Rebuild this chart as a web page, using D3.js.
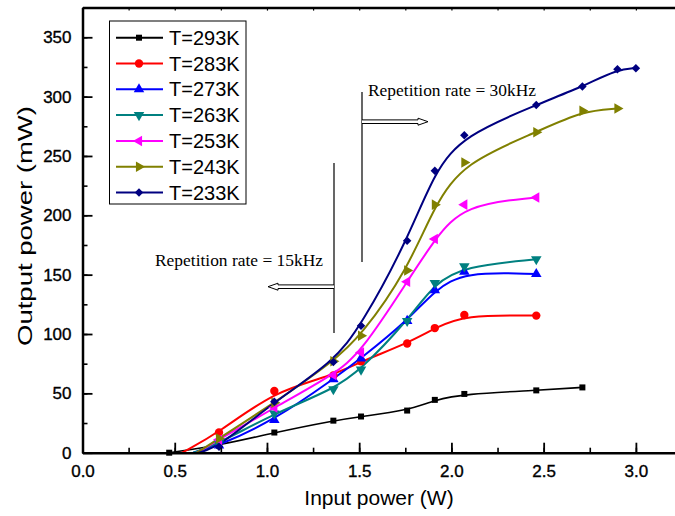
<!DOCTYPE html>
<html>
<head>
<meta charset="utf-8">
<style>
body { margin: 0; background: #fff; }
.axis text { font: 17px "Liberation Sans", Arial, sans-serif; fill: #000; stroke: #000; stroke-width: 0.35px; }
.axis path, .axis line { stroke: #000; fill: none; }
.title { font: 21px "Liberation Sans", Arial, sans-serif; fill: #000; }
.legend text { font: 20px "Liberation Sans", Arial, sans-serif; fill: #000; }
.note { font: 17.5px "Liberation Serif", "Times New Roman", serif; fill: #000; }
</style>
</head>
<body>
<svg id="chart"></svg>
<script src="https://d3js.org/d3.v7.min.js"></script>
<script>

var labels = ["T=293K", "T=283K", "T=273K", "T=263K", "T=253K", "T=243K", "T=233K"];
var colors = ["#000000", "#ff0000", "#0000ff", "#008080", "#ff00ff", "#808000", "#000080"];

// x where each fitted curve leaves the axis (no marker there)
var onset = [0.47, 0.54, 0.60, 0.60, 0.62, 0.62, 0.63];

var x293 = [0.47, 0.74, 1.04, 1.36, 1.51, 1.76, 1.91, 2.07, 2.46, 2.71];
var y293 = [0, 6, 17, 27, 30.5, 35.5, 44.5, 49.5, 52.5, 55];
var x283 = [0.74, 1.04, 1.36, 1.51, 1.76, 1.91, 2.07, 2.46];
var y283 = [17, 52, 65, 77, 92, 105, 116, 115.5];
var x273 = [0.74, 1.04, 1.36, 1.51, 1.76, 1.91, 2.07, 2.46];
var y273 = [6, 27.5, 62, 79.5, 111, 137, 152.5, 150.5];
var x263 = [0.74, 1.04, 1.36, 1.51, 1.76, 1.91, 2.07, 2.46];
var y263 = [8, 33, 53.5, 70, 111, 143, 157, 163];
var x253 = [0.74, 1.04, 1.36, 1.51, 1.76, 1.91, 2.07, 2.46];
var y253 = [11, 38, 65.5, 84.5, 144, 180, 209, 215];
var x243 = [0.74, 1.04, 1.36, 1.51, 1.76, 1.91, 2.07, 2.46, 2.71, 2.90];
var y243 = [12, 42, 77, 98.5, 153.5, 209, 244.5, 270, 288, 290];
var x233 = [0.74, 1.04, 1.36, 1.51, 1.76, 1.91, 2.07, 2.46, 2.71, 2.90, 3.00];
var y233 = [5, 43, 76.5, 107, 178.5, 237.5, 267.5, 293, 308.5, 323, 324];

var xTicks = [0, 0.5, 1.0, 1.5, 2.0, 2.5, 3.0];
var yTicks = [0, 50, 100, 150, 200, 250, 300, 350];

var xs = [x293, x283, x273, x263, x253, x243, x233];
var ys = [y293, y283, y273, y263, y253, y243, y233];

var width = 675, height = 516;

var x = d3.scaleLinear().domain([0, 3.25]).range([82.5, 682]);
var y = d3.scaleLinear().domain([0, 375]).range([452.7, 7.6]);

var svg = d3.select("#chart").attr("width", width).attr("height", height);

// marker shapes per series
var shapes = [
  {type: d3.symbolSquare, size: 36, rot: 0},
  {type: d3.symbolCircle, size: 55, rot: 0},
  {type: d3.symbolTriangle, size: 48, rot: 0},
  {type: d3.symbolTriangle, size: 48, rot: 180},
  {type: d3.symbolTriangle, size: 48, rot: -90},
  {type: d3.symbolTriangle, size: 48, rot: 90},
  {type: d3.symbolSquare, size: 36, rot: 45}
];

var series = labels.map(function(l, i) {
  var pts = xs[i].map(function(v, j) { return [v, ys[i][j]]; });
  var path = pts.slice();
  if (pts[0][0] > onset[i]) path.unshift([onset[i], 0]);
  return {label: l, color: colors[i], pts: pts, path: path, shape: shapes[i]};
});

var line = d3.line()
  .x(function(d) { return x(d[0]); })
  .y(function(d) { return y(d[1]); })
  .curve(d3.curveBasis);

var plot = svg.append("g");

series.forEach(function(s, i) {
  plot.append("path")
    .attr("d", line(s.path))
    .attr("fill", "none")
    .attr("stroke", s.color)
    .attr("stroke-width", i == 0 ? 1.6 : 2);
});

series.forEach(function(s) {
  var sym = d3.symbol().type(s.shape.type).size(s.shape.size);
  plot.selectAll(null)
    .data(s.pts)
    .enter().append("path")
    .attr("d", sym)
    .attr("fill", s.color)
    .attr("transform", function(d) {
      return "translate(" + x(d[0]) + "," + y(d[1]) + ") rotate(" + s.shape.rot + ")";
    });
});

// axes
var xMinor = d3.range(0, 3.26, 0.25);
var yMinor = d3.range(0, 376, 25);

svg.append("g").attr("class", "axis")
  .attr("transform", "translate(0," + y(0) + ")")
  .call(d3.axisBottom(x).tickValues(xMinor).tickSize(-5).tickSizeOuter(0).tickFormat(""))
  .call(function(g) { g.selectAll("line").attr("stroke-width", 1.6); });

svg.append("g").attr("class", "axis")
  .attr("transform", "translate(0," + y(0) + ")")
  .call(d3.axisBottom(x).tickValues(xTicks).tickSize(-10).tickSizeOuter(0).tickPadding(12)
    .tickFormat(d3.format(".1f")))
  .call(function(g) {
    g.select(".domain").attr("stroke-width", 2.5);
    g.selectAll("line").attr("stroke-width", 1.8);
  });

svg.append("g").attr("class", "axis")
  .attr("transform", "translate(" + x(0) + ",0)")
  .call(d3.axisLeft(y).tickValues(yMinor).tickSize(-5).tickSizeOuter(0).tickFormat(""))
  .call(function(g) { g.selectAll("line").attr("stroke-width", 1.6); });

svg.append("g").attr("class", "axis")
  .attr("transform", "translate(" + x(0) + ",0)")
  .call(d3.axisLeft(y).tickValues(yTicks).tickSize(-10).tickSizeOuter(0).tickPadding(11))
  .call(function(g) {
    g.select(".domain").attr("stroke-width", 2.5);
    g.selectAll("line").attr("stroke-width", 1.8);
  });

svg.append("g").attr("class", "axis")
  .attr("transform", "translate(0," + y(375) + ")")
  .call(d3.axisTop(x).tickValues(xMinor).tickSize(-3).tickSizeOuter(0).tickFormat(""))
  .call(function(g) {
    g.select(".domain").attr("stroke-width", 2.5);
    g.selectAll("line").attr("stroke-width", 1.2).attr("stroke", "#666");
  });

// axis titles
svg.append("text").attr("class", "title")
  .attr("x", 379).attr("y", 505)
  .attr("text-anchor", "middle")
  .text("Input power (W)");

svg.append("text").attr("class", "title")
  .attr("transform", "translate(32,226) rotate(-90)")
  .attr("text-anchor", "middle")
  .attr("textLength", 240).attr("lengthAdjust", "spacingAndGlyphs")
  .text("Output power (mW)");

// legend
var legend = svg.append("g").attr("class", "legend");
legend.append("rect")
  .attr("x", 109.5).attr("y", 21).attr("width", 136.5).attr("height", 183)
  .attr("fill", "#fff").attr("stroke", "#000").attr("stroke-width", 1);

series.forEach(function(s, i) {
  var ly = 37.7 + i * 25.8;
  var row = legend.append("g").attr("transform", "translate(0," + ly + ")");
  row.append("line").attr("x1", 116).attr("x2", 163)
    .attr("stroke", s.color).attr("stroke-width", 2);
  row.append("path")
    .attr("d", d3.symbol().type(s.shape.type).size(s.shape.size))
    .attr("fill", s.color)
    .attr("transform", "translate(139,0) rotate(" + s.shape.rot + ")");
  row.append("text").attr("x", 169).attr("y", 7).text(s.label);
});

// annotations with hollow arrows
function hollowArrow(x0, x1, yy) {
  var dir = x1 > x0 ? 1 : -1;
  var xh = x1 - dir * 10;
  var pts = [[x0, yy - 1.8], [xh, yy - 1.8], [xh, yy - 3.5], [x1, yy],
             [xh, yy + 3.5], [xh, yy + 1.8], [x0, yy + 1.8]];
  svg.append("path")
    .attr("d", d3.line()(pts))
    .attr("fill", "#fff").attr("stroke", "#000").attr("stroke-width", 1);
}

svg.append("line").attr("x1", 362).attr("x2", 362).attr("y1", 92).attr("y2", 262)
  .attr("stroke", "#000").attr("stroke-width", 1.2);
hollowArrow(362, 428, 121.7);
svg.append("text").attr("class", "note").attr("x", 368).attr("y", 96)
  .attr("textLength", 168).attr("lengthAdjust", "spacingAndGlyphs")
  .text("Repetition rate = 30kHz");

svg.append("line").attr("x1", 334).attr("x2", 334).attr("y1", 163).attr("y2", 333)
  .attr("stroke", "#000").attr("stroke-width", 1.2);
hollowArrow(334, 268, 286.7);
svg.append("text").attr("class", "note").attr("x", 155).attr("y", 266)
  .attr("textLength", 168).attr("lengthAdjust", "spacingAndGlyphs")
  .text("Repetition rate = 15kHz");

</script>
</body>
</html>
